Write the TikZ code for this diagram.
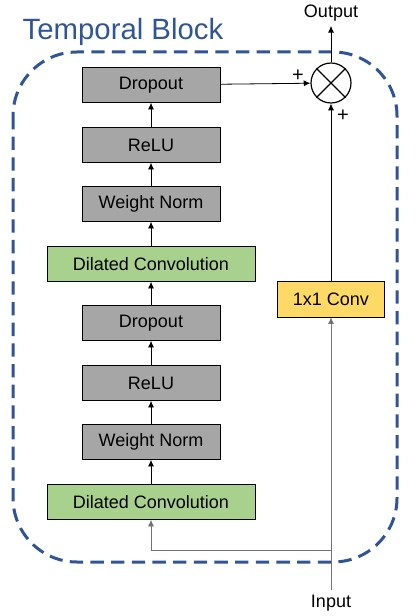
\documentclass[tikz,border=0pt]{standalone}
\usepackage{fontspec}
\setmainfont{Liberation Sans}
\usetikzlibrary{arrows.meta}
\definecolor{blockblue}{HTML}{2F5597}
\definecolor{boxgrey}{HTML}{A6A6A6}
\definecolor{boxgreen}{HTML}{A9D18E}
\definecolor{boxyellow}{HTML}{FFD966}
\begin{document}
\begin{tikzpicture}
        [x=0.75pt,y=-0.75pt,
         font=\fontsize{13.5}{16}\selectfont,
         grey_style/.style={rectangle,draw=black,fill=boxgrey,minimum width=103.5pt,minimum height=26.25pt,inner sep=0pt},
         green_style/.style={rectangle,draw=black,fill=boxgreen,minimum width=156pt,minimum height=26.25pt,inner sep=0pt},
         yellow_style/.style={rectangle,draw=black,fill=boxyellow,minimum width=80pt,minimum height=27pt,inner sep=0pt},
         plus_style/.style={font=\fontsize{15}{17}\selectfont,inner sep=0pt},
         edge_style/.style={draw=black,line width=0.6pt,-{Latex[length=5pt,width=4.5pt]}},
         feed_style/.style={draw=black!55,line width=0.6pt}]
            \useasboundingbox (0,0) rectangle (416,616);
            % dashed block frame
            \draw[blockblue,line width=2.25pt,dash pattern=on 10pt off 5.5pt,rounded corners=48pt]
                (13,52) rectangle (397,562);
            \node[text=blockblue,anchor=west,font=\fontsize{22}{26}\selectfont] (title) at (18,32) {Temporal Block};
            \node[grey_style] (drop2) at (151,85)  {Dropout};
            \node[grey_style] (relu2) at (151,145) {ReLU};
            \node[grey_style] (norm2) at (151,204) {Weight Norm};
            \node[green_style] (conv2) at (151,264) {Dilated Convolution};
            \node[grey_style] (drop1) at (151,323) {Dropout};
            \node[grey_style] (relu1) at (151,383) {ReLU};
            \node[grey_style] (norm1) at (151,442) {Weight Norm};
            \node[green_style] (conv1) at (151,502) {Dilated Convolution};
            \node[yellow_style] (down) at (331,299) {1x1 Conv};
            \node[circle,draw=black,line width=0.9pt,minimum size=30pt,inner sep=0pt] (sum) at (331,83) {};
            \draw[line width=0.9pt] (sum.north east) -- (sum.south west) (sum.north west) -- (sum.south east);
            \node (output) at (331,13)  {Output};
            \node (input) at (331,603) {Input};
            \coordinate (split) at (331,550);
            \node[plus_style] (plus1) at (298,76)  {+};
            \node[plus_style] (plus2) at (343,116) {+};
            \draw[edge_style]  (conv1) edge node{} (norm1);
            \draw[edge_style]  (norm1) edge node{} (relu1);
            \draw[edge_style]  (relu1) edge node{} (drop1);
            \draw[edge_style]  (drop1) edge node{} (conv2);
            \draw[edge_style]  (conv2) edge node{} (norm2);
            \draw[edge_style]  (norm2) edge node{} (relu2);
            \draw[edge_style]  (relu2) edge node{} (drop2);
            \draw[feed_style]  (input.north) -- (split);
            \draw[feed_style,-{Latex[length=5pt,width=4.5pt]}] (split) -- (down);
            \draw[feed_style,-{Latex[length=5pt,width=4.5pt]}] (split) -| (conv1);
            \draw[edge_style]  (down) edge node{} (sum);
            \draw[edge_style]  (drop2) edge node{} (sum);
            \draw[edge_style]  (sum) edge node{} (output);
        \end{tikzpicture}
\end{document}
